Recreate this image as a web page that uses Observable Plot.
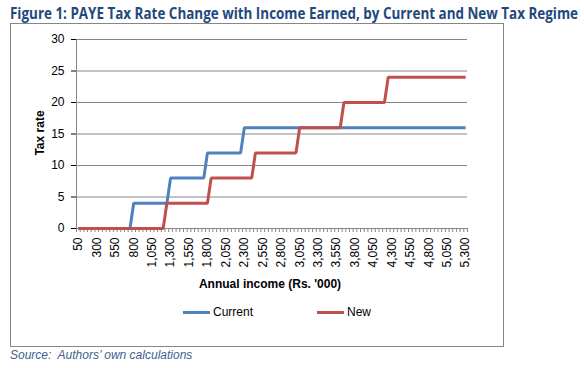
<!DOCTYPE html>
<html>
<head>
<meta charset="utf-8">
<script src="https://cdn.jsdelivr.net/npm/d3@7"></script>
<script src="https://cdn.jsdelivr.net/npm/@observablehq/plot@0.6"></script>
<style>
  html, body { margin: 0; padding: 0; background: #fff; }
  body { width: 584px; height: 368px; position: relative; overflow: hidden; font-family: "Liberation Sans", Arial, sans-serif; }
  #title { position: absolute; left: 10px; top: 3px; font-family: "Open Sans", "Liberation Sans", sans-serif; font-weight: bold; font-size: 16px; color: #1F497D; white-space: nowrap; transform-origin: 0 0; line-height: 20px; }
  #box { position: absolute; left: 10px; top: 23px; width: 492px; height: 322px; border: 1px solid #868686; box-sizing: content-box; }
  #chart { position: absolute; left: 0; top: 23px; }
  .ytitle { position: absolute; left: 40px; top: 133px; transform: translate(-50%, -50%) rotate(-90deg); font-weight: bold; font-size: 12px; white-space: nowrap; }
  .xtitle { position: absolute; left: 270px; top: 284px; transform: translate(-50%, -50%); font-weight: bold; font-size: 12px; white-space: nowrap; }
  .leg { position: absolute; top: 305px; font-size: 12px; height: 14px; line-height: 14px; }
  .sw { position: absolute; top: 6px; width: 27px; height: 3px; }
  .leg span { position: absolute; left: 30px; top: 0; white-space: nowrap; }
  #source { position: absolute; left: 10px; top: 348px; font-style: italic; font-size: 12px; color: #3b5f8f; white-space: nowrap; }
  .c g[aria-label^="y-axis"] line { stroke: #868686; }
</style>
</head>
<body>
<div id="title">Figure 1: PAYE Tax Rate Change with Income Earned, by Current and New Tax Regime</div>
<div id="box"></div>
<div id="chart"></div>
<div class="ytitle">Tax rate</div>
<div class="xtitle">Annual income (Rs. '000)</div>
<div class="leg" style="left:183px"><div class="sw" style="background:#4F81BD"></div><span>Current</span></div>
<div class="leg" style="left:317px"><div class="sw" style="background:#C0504D"></div><span>New</span></div>
<div id="source">Source:&nbsp; Authors’ own calculations</div>
<script>
const income = [
  50,100,150,200,250,300,350,400,450,500,
  550,600,650,700,750,800,850,900,950,1000,
  1050,1100,1150,1200,1250,1300,1350,1400,1450,1500,
  1550,1600,1650,1700,1750,1800,1850,1900,1950,2000,
  2050,2100,2150,2200,2250,2300,2350,2400,2450,2500,
  2550,2600,2650,2700,2750,2800,2850,2900,2950,3000,
  3050,3100,3150,3200,3250,3300,3350,3400,3450,3500,
  3550,3600,3650,3700,3750,3800,3850,3900,3950,4000,
  4050,4100,4150,4200,4250,4300,4350,4400,4450,4500,
  4550,4600,4650,4700,4750,4800,4850,4900,4950,5000,
  5050,5100,5150,5200,5250,5300
];
const currentRate = [
  0,0,0,0,0,0,0,0,0,0,
  0,0,0,0,0,4,4,4,4,4,
  4,4,4,4,4,8,8,8,8,8,
  8,8,8,8,8,12,12,12,12,12,
  12,12,12,12,12,16,16,16,16,16,
  16,16,16,16,16,16,16,16,16,16,
  16,16,16,16,16,16,16,16,16,16,
  16,16,16,16,16,16,16,16,16,16,
  16,16,16,16,16,16,16,16,16,16,
  16,16,16,16,16,16,16,16,16,16,
  16,16,16,16,16,16
];
const newRate = [
  0,0,0,0,0,0,0,0,0,0,
  0,0,0,0,0,0,0,0,0,0,
  0,0,0,0,4,4,4,4,4,4,
  4,4,4,4,4,4,8,8,8,8,
  8,8,8,8,8,8,8,8,12,12,
  12,12,12,12,12,12,12,12,12,12,
  16,16,16,16,16,16,16,16,16,16,
  16,16,20,20,20,20,20,20,20,20,
  20,20,20,20,24,24,24,24,24,24,
  24,24,24,24,24,24,24,24,24,24,
  24,24,24,24,24,24
];
const xTickLabels = [50,300,550,800,1050,1300,1550,1800,2050,2300,2550,2800,3050,3300,3550,3800,4050,4300,4550,4800,5050,5300];
const yTicks = [0,5,10,15,20,25,30];
const series = ["Current", "New"];
const colors = ["#4F81BD", "#C0504D"];

// fit the title to the reference's width
const titleEl = document.getElementById("title");
const tw = titleEl.getBoundingClientRect().width;
titleEl.style.transform = `scale(${568 / tw}, 1)`;

const rows = [];
income.forEach((v, i) => rows.push({income: v, rate: currentRate[i], series: "Current"}));
income.forEach((v, i) => rows.push({income: v, rate: newRate[i], series: "New"}));

const W = 503, H = 323, ML = 76, MR = 36, MT = 16, MB = 118;
const step = (W - ML - MR) / income.length;
const grid = yTicks.filter(t => t !== 0);

const chart = Plot.plot({
  width: W, height: H,
  marginLeft: ML, marginRight: MR, marginTop: MT, marginBottom: MB,
  className: "c",
  style: {fontFamily: "Liberation Sans, Arial, sans-serif", fontSize: "12px", color: "#000", background: "transparent", overflow: "visible"},
  x: {type: "point", domain: income, padding: 0.5, ticks: xTickLabels, tickFormat: d3.format(","), tickRotate: -90, tickSize: 0, tickPadding: 9, label: null},
  y: {domain: [0, 30], ticks: yTicks, tickSize: 5, tickPadding: 7, label: null},
  color: {domain: series, range: colors},
  marks: [
    Plot.ruleY(grid, {stroke: "#868686", strokeWidth: 1}),
    Plot.ruleY([0], {stroke: "#868686", strokeWidth: 1}),
    Plot.ruleX([income[0]], {y1: 0, y2: 30, dx: -step / 2, stroke: "#868686"}),
    Plot.ruleX(income, {x: d => d, y1: 0, y2: 0, insetTop: 4, dx: -step / 2, stroke: "#868686"}),
    Plot.ruleX([income[income.length - 1]], {y1: 0, y2: 0, insetTop: 4, dx: step / 2, stroke: "#868686"}),
    Plot.line(rows, {x: "income", y: "rate", z: "series", stroke: "series", strokeWidth: 3, strokeLinejoin: "miter", strokeLinecap: "butt"})
  ]
});
document.getElementById("chart").appendChild(chart);
</script>
</body>
</html>
